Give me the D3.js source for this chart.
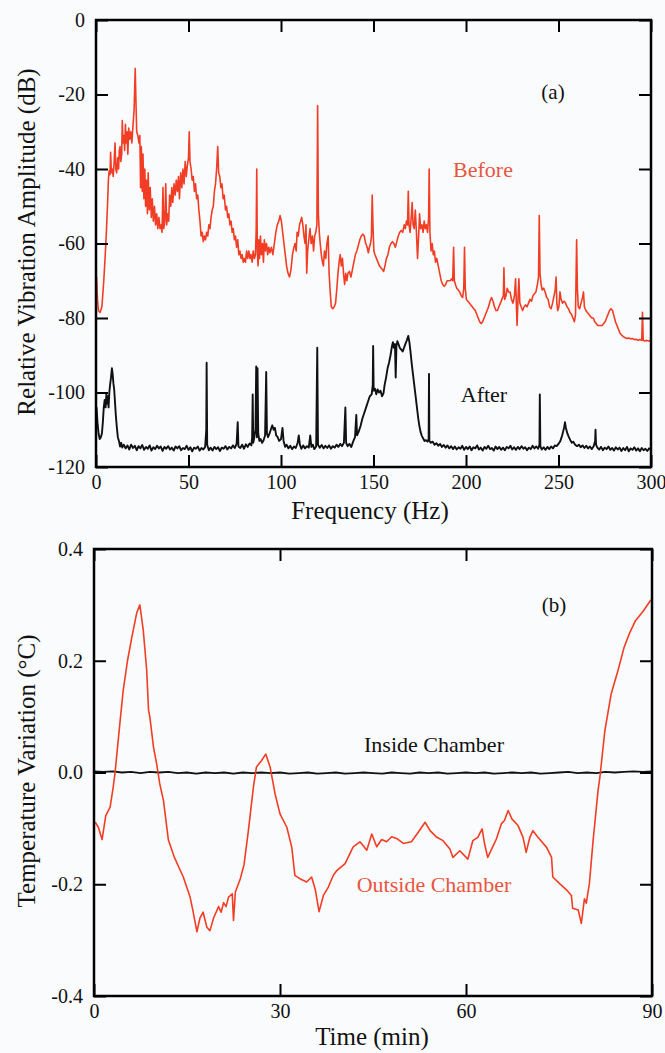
<!DOCTYPE html>
<html>
<head>
<meta charset="utf-8">
<script src="https://cdn.jsdelivr.net/npm/d3@7"></script>
<style>
  body { margin: 0; background: #fafbfd; }
  .frame { fill: none; stroke: #000; stroke-width: 2.5; }
  .axis path { display: none; }
  .axis line { stroke: #000; stroke-width: 2; }
  .axis text { font-size: 20px; fill: #111; }
</style>
</head>
<body>
<div id="container"></div>
<script>
/* DATA: panel (a) spectra, [frequency Hz, amplitude dB] */
const beforeData = [
  [0.3,-69],[0.8,-75],[1.3,-78],[2.2,-78.5],[3.2,-77],[4.2,-70],[5,-63],[5.6,-57],[6.2,-50],[6.7,-43],[7.1,-40.5],[7.6,-41.5],[7.9,-35.5],[8.3,-41],[8.8,-40],[9.3,-42],[9.7,-39],[10.3,-33],[10.7,-40],[11.2,-41],[11.7,-37],[12.2,-40],[12.6,-35],[13,-34],[13.4,-38],[13.9,-36],[14.2,-27],[14.6,-33],[15.1,-31],[15.5,-35],[15.9,-28],[16.3,-33],[16.8,-30],[17.2,-36],[17.7,-29],[18.2,-32],[18.8,-30],[19.4,-33],[19.9,-29],[20.6,-24],[21.2,-13],[21.6,-22],[22,-30],[22.6,-31],[23.2,-33],[23.7,-31],[24.1,-45],[24.5,-34],[25,-46],[25.4,-36],[25.9,-48],[26.4,-40],[26.8,-50],[27.3,-43],[27.8,-52],[28.2,-41],[28.8,-51],[29.3,-45],[29.9,-53],[30.4,-48],[31,-54],[31.6,-50],[32.2,-55],[32.8,-52],[33.4,-56],[34,-53],[34.6,-56],[35.2,-55],[35.7,-57],[36.2,-45],[36.6,-56],[37.2,-54],[37.7,-44],[38.2,-55],[38.8,-52],[39.3,-54],[39.8,-47],[40.4,-50],[41,-45],[41.5,-49],[42.2,-44],[42.8,-47],[43.4,-43],[44,-46],[44.6,-42],[45.1,-48],[45.8,-41],[46.4,-45],[47,-40],[47.6,-44],[48.2,-38],[48.8,-42],[49.4,-39],[50,-37],[50.4,-30],[50.8,-38],[51.4,-40],[52,-43],[52.6,-42],[53.2,-46],[53.8,-44],[54.4,-48],[55,-47],[55.6,-51],[56.2,-54],[56.8,-58],[57.4,-57],[58,-59.5],[58.6,-58],[59.2,-59],[59.8,-57],[60.4,-58],[61,-55],[61.6,-56],[62.2,-53],[62.8,-51],[63.4,-50],[64,-46],[64.6,-44],[65.2,-40],[65.8,-34],[66.3,-41],[66.9,-42],[67.5,-45],[68.1,-44],[68.7,-48],[69.3,-47],[70,-51],[70.6,-50],[71.2,-53],[71.8,-52],[72.4,-55],[73,-54],[73.6,-57],[74.2,-56],[74.8,-59],[75.4,-58],[76,-61],[76.6,-59],[77.2,-63],[77.8,-62],[78.4,-64],[79,-63],[79.6,-65],[80.2,-64],[80.8,-65],[81.4,-62],[82,-64],[82.6,-62],[83.2,-64],[83.8,-63],[84.4,-65],[85,-62],[85.6,-64],[86.2,-63],[86.6,-56],[86.9,-40],[87.2,-62],[87.6,-66],[88,-59],[88.4,-64],[88.9,-58],[89.4,-63],[90,-60],[90.5,-65],[91,-59],[91.6,-62],[92.2,-60],[92.8,-63],[93.4,-61],[94,-62.5],[94.8,-61],[95.6,-63],[96.4,-60],[97.2,-57],[98,-55],[98.8,-54],[99.5,-52.5],[100.2,-54],[100.9,-57],[101.6,-60],[102.3,-63],[103,-66],[103.8,-68],[104.6,-69],[105.4,-67],[106.2,-63],[107,-61],[107.6,-60],[108.2,-62],[108.7,-57],[109.3,-58],[110,-55],[110.6,-54],[111.2,-53],[111.8,-55],[112.4,-58],[113,-60],[113.5,-55],[113.9,-68],[114.4,-62],[115,-59],[115.7,-56],[116.3,-60],[117,-58],[117.6,-62],[118.2,-58],[118.8,-57],[119.4,-55],[119.8,-23],[120.2,-52],[120.7,-57],[121.2,-60],[121.8,-63],[122.4,-65],[122.9,-66],[123.5,-62],[124.2,-64],[124.8,-60],[125.5,-58],[126,-68],[126.6,-73],[127.2,-77],[128,-77.5],[128.8,-77],[129.5,-76],[130.2,-72],[130.8,-68],[131.4,-65],[132,-63],[132.6,-66],[133.2,-64],[133.8,-68],[134.4,-71],[135,-68],[135.6,-70],[136.2,-68],[137,-67.5],[137.8,-69],[138.6,-67],[139.4,-65],[140.2,-63],[141,-62],[141.8,-60.5],[142.6,-59],[143.4,-58],[144.2,-57.5],[145,-58],[145.8,-60],[146.6,-61],[147.2,-62.5],[147.8,-61],[148.4,-60],[148.9,-58],[149.3,-47],[149.7,-55],[150.2,-62],[150.8,-63],[151.6,-64],[152.4,-65],[153.2,-66],[154,-66.5],[154.8,-67],[155.5,-67.5],[156.2,-66],[157,-64],[157.8,-63],[158.6,-61],[159.4,-60],[160.2,-59.5],[161,-60],[161.8,-61],[162.6,-59.5],[163.4,-58],[164.2,-57],[165,-56.5],[165.8,-57],[166.6,-55],[167.2,-56],[167.8,-54],[168.4,-55],[168.8,-46],[169.2,-55],[169.8,-57],[170.4,-53],[170.9,-49],[171.4,-55],[172,-56],[172.6,-51],[173.2,-57],[173.8,-64],[174.4,-58],[174.9,-52],[175.5,-56],[176.2,-55],[176.8,-57],[177.4,-54],[178,-56],[178.6,-55],[179.2,-57],[179.8,-53],[180.1,-40],[180.5,-57],[181.1,-62],[181.7,-60],[182.3,-63],[182.9,-62],[183.5,-65],[184.2,-64],[185,-66],[185.8,-68],[186.6,-70],[187.4,-71],[188.2,-71.5],[189,-71],[189.8,-70],[190.6,-70],[191.4,-70],[192.2,-69.5],[192.8,-70],[193.3,-61],[193.7,-70],[194.3,-71],[195,-72],[195.8,-72.5],[196.6,-73],[197.4,-74],[198.2,-74.5],[198.8,-72],[199.2,-61],[199.6,-72],[200.2,-75],[201,-75.5],[201.8,-76],[202.6,-76.5],[203.4,-77],[204.2,-77.5],[205,-78],[205.8,-79],[206.6,-80],[207.4,-81],[208.2,-81.5],[209,-81],[209.8,-80],[210.6,-79],[211.4,-78],[212.2,-77],[213,-75.5],[213.8,-74.5],[214.6,-75.5],[215.4,-77],[216.2,-78],[217,-78],[217.8,-77],[218.6,-76],[219.4,-75],[220.2,-74],[220.5,-66.5],[220.9,-75],[221.6,-74],[222.3,-72],[223,-73],[223.8,-73],[224.6,-75],[225.4,-76],[226.2,-74],[226.8,-69.5],[227.2,-76],[227.6,-82],[228.1,-75],[228.6,-69.5],[229.1,-76],[229.8,-77],[230.6,-78],[231.4,-77],[232.2,-76.5],[233,-77],[233.8,-76],[234.6,-75],[235.4,-75.5],[236.2,-74],[237,-73.5],[237.8,-73],[238.6,-71],[239.2,-69],[239.6,-52.5],[240,-68],[240.6,-71],[241.2,-72.5],[242,-72],[242.8,-73],[243.6,-74.5],[244.4,-75],[245.2,-77],[246,-77.5],[246.8,-76],[247.6,-74],[248.2,-72.5],[248.7,-69],[249.1,-76],[249.6,-78],[250.2,-77],[250.8,-73],[251.4,-75],[252.2,-76],[253,-75.5],[253.8,-76],[254.6,-77],[255.4,-77.5],[256.2,-78.5],[257,-79],[257.8,-80],[258.6,-81],[259.2,-79],[259.8,-59],[260.2,-72],[260.7,-77],[261.4,-77.5],[262.2,-76],[263,-74.5],[263.5,-73],[264,-77],[264.8,-78],[265.6,-78.5],[266.4,-79],[267.2,-79.5],[268,-80],[268.8,-80],[269.6,-81],[270.4,-81.5],[271.2,-82],[272,-82],[272.8,-82],[273.6,-82],[274.4,-81.5],[275.2,-81],[276,-80],[276.8,-79],[277.6,-78],[278.4,-77.5],[279.2,-78],[280,-79.5],[280.8,-81],[281.6,-82],[282.4,-83],[283.2,-84],[284,-84.5],[285,-85],[286,-85.3],[287,-85.5],[288,-85.4],[289,-85.6],[290,-85.5],[291,-85.8],[292,-85.7],[293,-86],[294,-85.8],[295,-86],[295.4,-78.5],[295.8,-86],[296.6,-86.2],[297.4,-86],[298.2,-86.1],[299,-86.2],[300,-86]
];

const afterData = [
  [0.3,-104],[0.8,-108],[1.4,-111],[2,-112.5],[2.6,-112],[3.2,-111],[3.7,-108],[4.2,-104],[4.7,-102],[5.2,-104],[5.6,-100.5],[6,-103],[6.4,-101],[6.8,-104],[7.2,-100],[7.6,-98],[8.1,-96],[8.6,-93.5],[9,-95],[9.4,-97.5],[9.8,-99],[10.2,-102],[10.7,-106],[11.2,-109],[11.8,-112],[12.4,-113],[13,-114.5],[13.6,-113.5],[14.2,-114.8],[15,-114],[16,-115],[17,-114.2],[18,-115.3],[19,-114],[20,-114.9],[21,-114.3],[22,-115.5],[23,-114.4],[24,-115],[25,-114.1],[26,-115.4],[27,-114.6],[28,-115.1],[29,-114.2],[30,-115.6],[31,-114.7],[32,-115.2],[33,-114.3],[34,-115],[35,-114.5],[36,-115.7],[37,-114.6],[38,-115.1],[39,-114.4],[40,-115.3],[41,-114.8],[42,-115.6],[43,-114.5],[44,-115],[45,-114.4],[46,-115.5],[47,-114.9],[48,-115.2],[49,-114.3],[50,-115.4],[51,-114.7],[52,-115.8],[53,-114.8],[54,-115.1],[55,-114.5],[56,-115.6],[57,-114.9],[58,-115.3],[59,-114.6],[59.6,-110],[59.8,-92],[60.1,-114],[61,-115.5],[62,-114.8],[63,-115.6],[64,-114.6],[65,-115.2],[66,-114.7],[67,-115.7],[68,-114.8],[69,-115.1],[70,-114.4],[71,-115.3],[72,-114.6],[73,-115],[74,-114.2],[75,-114.9],[76,-113.8],[76.6,-108],[77,-114.5],[78,-114.9],[79,-114],[80,-115.1],[81,-113.9],[82,-114.6],[83,-113.7],[84,-114.2],[84.4,-112],[84.7,-100.5],[85,-113.5],[85.6,-112],[86.2,-110],[86.6,-93],[87,-112],[87.3,-93.5],[87.7,-111],[88.3,-113],[89,-112.5],[89.8,-113.5],[90.6,-112.8],[91.4,-111.5],[92,-94.5],[92.4,-111],[93,-112],[93.8,-111],[94.6,-109.8],[95.3,-108.8],[96,-110],[96.7,-109.5],[97.4,-111.5],[98.2,-112],[99,-113],[100,-112.5],[100.8,-109.5],[101.4,-113],[102.2,-114.6],[103,-114],[104,-115],[105,-114.3],[106,-115.2],[107,-114.5],[108,-114.9],[109,-113.5],[109.6,-111.5],[110.2,-114],[111,-115.1],[112,-114.2],[113,-115],[114,-114.4],[115,-114.8],[115.8,-111.5],[116.4,-114.6],[117.2,-114],[118,-115.2],[119,-114.5],[119.6,-88],[120,-114],[121,-114.8],[122,-114.1],[123,-115],[124,-114.3],[125,-114.9],[126,-114.2],[127,-115.1],[128,-114.4],[129,-114.8],[130,-114],[131,-114.6],[132,-113.8],[133,-114.4],[134,-113.5],[134.8,-104],[135.2,-113.5],[136,-114.4],[137,-113.8],[138,-114.6],[139,-113.2],[140,-112],[140.7,-106],[141.1,-111.5],[142,-110.5],[143,-109],[144,-107],[145,-105.5],[146,-104],[147,-102.5],[148,-101],[149,-100.5],[149.6,-98],[149.8,-87.5],[150.1,-99.5],[150.8,-99],[151.5,-100.5],[152.2,-99.2],[153,-100],[153.8,-99.5],[154.6,-101],[155.4,-100.2],[156,-98],[156.8,-96],[157.6,-93.5],[158.4,-92],[159.2,-90],[160,-87.5],[160.5,-86.5],[161,-88],[161.6,-87],[162,-96],[162.4,-87.5],[162.9,-86.2],[163.5,-87],[164.2,-88],[165,-88.5],[165.8,-89],[166.5,-88],[167.2,-87],[168,-86],[168.8,-84.8],[169.4,-86.5],[170,-89],[170.6,-92],[171.2,-94.5],[171.8,-97],[172.4,-99.5],[173,-102],[173.6,-104.5],[174.2,-107],[174.8,-109],[175.4,-110.5],[176,-111.5],[176.8,-112.3],[177.6,-113],[178.4,-112.8],[179.2,-113.2],[179.8,-112.5],[180,-95],[180.2,-113],[181,-113.5],[182,-113.2],[183,-114],[184,-113.6],[185,-114.3],[186,-113.8],[187,-114.6],[188,-114.1],[189,-114.8],[190,-114.2],[191,-115],[192,-114.4],[193,-115.2],[194,-114.5],[195,-115.3],[196,-114.7],[197,-115.1],[198,-114.3],[199,-115.4],[200,-114.6],[201,-115.2],[202,-114.5],[203,-115.5],[204,-114.7],[205,-115],[206,-114.2],[207,-115.3],[208,-114.8],[209,-115.6],[210,-114.6],[211,-115.1],[212,-114.3],[213,-115.2],[214,-114.9],[215,-115.6],[216,-114.5],[217,-115.2],[218,-114.6],[219,-115.4],[220,-114.8],[221,-115.5],[222,-114.6],[223,-115],[224,-114.3],[225,-115.3],[226,-114.7],[227,-115.4],[228,-114.6],[229,-115.2],[230,-114.4],[231,-115.1],[232,-114.7],[233,-115.5],[234,-114.8],[235,-115.2],[236,-114.3],[237,-115],[238,-114.5],[239,-115.1],[239.7,-114],[239.9,-100.5],[240.2,-114.5],[241,-115.3],[242,-114.7],[243,-115.4],[244,-114.6],[245,-115.2],[246,-114.5],[247,-115],[248,-114.2],[249,-114.4],[250,-113.8],[251,-113],[252,-111.5],[253,-109.5],[253.5,-108],[254,-109.5],[254.8,-111],[255.6,-112],[256.4,-112.8],[257.2,-113.5],[258,-113.2],[259,-114],[260,-114.4],[261,-114],[262,-114.7],[263,-114.2],[264,-114.9],[265,-114.3],[266,-115],[267,-114.5],[268,-115.2],[269,-114.4],[269.8,-113],[270,-110],[270.3,-114],[271,-114.8],[272,-115.3],[273,-114.6],[274,-115.5],[275,-114.8],[276,-115.2],[277,-114.5],[278,-115.4],[279,-114.9],[280,-115.6],[281,-114.7],[282,-115.3],[283,-114.8],[284,-115.7],[285,-114.9],[286,-115.5],[287,-114.6],[288,-115.8],[289,-115],[290,-115.4],[291,-114.7],[292,-115.6],[293,-115],[294,-115.8],[295,-114.9],[296,-115.5],[297,-115.1],[298,-115.7],[299,-115],[300,-115.4]
];

/* DATA: panel (b) temperature, [time min, variation °C] */
const outsideData = [
  [0.2,-0.089],[0.7,-0.098],[1.3,-0.12],[1.9,-0.077],[2.6,-0.062],[3.1,-0.026],[3.4,0],[4.1,0.08],[4.7,0.146],[5.4,0.2],[6.1,0.242],[6.9,0.286],[7.4,0.30],[7.95,0.254],[8.5,0.183],[8.8,0.111],[9.0,0.10],[9.6,0.045],[10.1,0.016],[10.6,-0.02],[11.2,-0.05],[12.0,-0.121],[12.9,-0.15],[13.7,-0.17],[14.4,-0.187],[15.5,-0.223],[16.0,-0.25],[16.6,-0.285],[17.1,-0.26],[17.6,-0.25],[18.2,-0.277],[18.7,-0.283],[19.3,-0.26],[20.1,-0.24],[20.5,-0.25],[20.9,-0.233],[21.3,-0.24],[21.7,-0.223],[22.3,-0.217],[22.5,-0.265],[22.8,-0.214],[23.6,-0.19],[24.2,-0.165],[24.9,-0.104],[25.7,-0.027],[26.2,0.01],[27.0,0.021],[27.7,0.033],[28.4,0.01],[28.9,-0.02],[29.2,-0.038],[30.0,-0.074],[31.1,-0.098],[31.9,-0.134],[32.4,-0.184],[33.2,-0.19],[34.3,-0.196],[35.1,-0.187],[35.7,-0.21],[36.3,-0.249],[37.0,-0.22],[37.8,-0.205],[38.6,-0.184],[39.2,-0.175],[40.5,-0.163],[41.8,-0.133],[42.9,-0.124],[44.0,-0.139],[44.8,-0.11],[45.6,-0.133],[46.4,-0.12],[47.2,-0.124],[48.0,-0.115],[48.8,-0.118],[49.9,-0.127],[51.2,-0.124],[52.3,-0.107],[53.4,-0.089],[54.2,-0.104],[55.3,-0.116],[56.3,-0.122],[57.4,-0.137],[57.9,-0.152],[59.0,-0.14],[60.3,-0.155],[61.1,-0.122],[61.9,-0.116],[62.6,-0.101],[63.0,-0.128],[63.5,-0.152],[64.4,-0.131],[64.9,-0.119],[65.7,-0.092],[66.2,-0.086],[66.8,-0.068],[67.4,-0.083],[68.4,-0.095],[69.2,-0.116],[69.7,-0.143],[70.3,-0.116],[70.8,-0.104],[71.6,-0.116],[73.0,-0.134],[73.8,-0.152],[74.0,-0.187],[75.1,-0.199],[76.2,-0.21],[77.0,-0.22],[77.2,-0.243],[78.1,-0.246],[78.6,-0.27],[79.1,-0.226],[79.4,-0.234],[79.9,-0.199],[80.5,-0.122],[81.3,-0.032],[81.6,-0.008],[82.4,0.075],[83.4,0.14],[84.5,0.182],[85.5,0.224],[86.4,0.25],[87.3,0.271],[88.6,0.289],[89.7,0.307],[90,0.31]
];

const insideData = [
  [0,0.002],[1.5,0.001],[3,0.002],[4.5,0.000],[6,0.001],[7.5,-0.001],[9,0.001],[10.5,0.000],[12,0.001],[13.5,-0.001],[15,0.000],[16.5,-0.002],[18,0.000],[19.5,-0.001],[21,0.000],[22.5,-0.002],[24,0.000],[25.5,-0.001],[27,0.000],[28.5,-0.001],[30,0.000],[31.5,-0.002],[33,-0.001],[34.5,0.000],[36,-0.002],[37.5,-0.001],[39,0.000],[40.5,-0.002],[42,-0.001],[43.5,0.000],[45,-0.001],[46.5,-0.002],[48,0.000],[49.5,-0.001],[51,-0.002],[52.5,0.000],[54,-0.001],[55.5,0.000],[57,-0.002],[58.5,-0.001],[60,0.000],[61.5,-0.001],[63,0.000],[64.5,-0.002],[66,-0.001],[67.5,0.000],[69,-0.001],[70.5,0.000],[72,-0.002],[73.5,-0.001],[75,0.000],[76.5,0.001],[78,-0.001],[79.5,0.000],[81,-0.001],[82.5,0.001],[84,0.000],[85.5,0.001],[87,0.002],[88.5,0.001],[90,0.002]
];

/* TICKS */
const freqTicks = [0, 50, 100, 150, 200, 250, 300];
const dbTicks = [-120, -100, -80, -60, -40, -20, 0];
const timeTicks = [0, 30, 60, 90];
const tempTicks = [-0.4, -0.2, 0.0, 0.2, 0.4];

const RED = "#f23d25";
const RED_TEXT = "#e8553f";
const SERIF = "'Liberation Serif', 'DejaVu Serif', 'Times New Roman', Times, serif";

const svg = d3.select("#container").append("svg")
    .attr("width", 665)
    .attr("height", 1053);

/* draws frame + inward ticks for one panel */
function drawPanel(x, y, xTicks, yTicks, yFmt) {
  const [x0, x1] = x.range();
  const [y0, y1] = y.range();
  const tick = 12;

  const bottom = svg.append("g").attr("class", "axis")
      .attr("transform", "translate(0," + y0 + ")")
      .call(d3.axisBottom(x).tickValues(xTicks).tickSize(-tick).tickPadding(8).tickFormat(d => d));
  bottom.attr("font-family", SERIF).attr("font-size", 20);

  svg.append("g").attr("class", "axis")
      .attr("transform", "translate(0," + y1 + ")")
      .call(d3.axisTop(x).tickValues(xTicks).tickSize(-tick).tickFormat(""));

  const left = svg.append("g").attr("class", "axis")
      .attr("transform", "translate(" + x0 + ",0)")
      .call(d3.axisLeft(y).tickValues(yTicks).tickSize(-tick).tickPadding(11).tickFormat(yFmt));
  left.attr("font-family", SERIF).attr("font-size", 20);

  svg.append("g").attr("class", "axis")
      .attr("transform", "translate(" + x1 + ",0)")
      .call(d3.axisRight(y).tickValues(yTicks).tickSize(-tick).tickFormat(""));

  svg.append("rect").attr("class", "frame")
      .attr("x", x0).attr("y", y1)
      .attr("width", x1 - x0).attr("height", y0 - y1);
}

function addLine(data, x, y, color, w) {
  svg.append("path")
      .datum(data)
      .attr("fill", "none")
      .attr("stroke", color)
      .attr("stroke-width", w)
      .attr("stroke-linejoin", "round")
      .attr("d", d3.line().x(d => x(d[0])).y(d => y(d[1])));
}

function label(txt, x, y, color, size) {
  svg.append("text")
      .attr("x", x).attr("y", y)
      .attr("text-anchor", "middle")
      .attr("font-family", SERIF)
      .attr("font-size", size)
      .attr("fill", color)
      .text(txt);
}

function vLabel(txt, x, yc) {
  svg.append("text")
      .attr("transform", "translate(" + x + "," + yc + ") rotate(-90)")
      .attr("text-anchor", "middle")
      .attr("font-family", SERIF)
      .attr("font-size", 25)
      .attr("fill", "#111")
      .text(txt);
}

/* PANEL (a) */
const xA = d3.scaleLinear().domain([0, 300]).range([96, 651]);
const yA = d3.scaleLinear().domain([-120, 0]).range([467, 20]);

addLine(beforeData, xA, yA, RED, 1.6);
addLine(afterData, xA, yA, "#111", 1.9);
drawPanel(xA, yA, freqTicks, dbTicks, d => String(d));

label("(a)", 553, 99, "#111", 21);
label("Before", 483, 177, RED_TEXT, 22);
label("After", 484, 402, "#111", 22);
label("Frequency (Hz)", 370, 519, "#111", 25);
vLabel("Relative Vibration Amplitude (dB)", 35, 242);

/* PANEL (b) */
const xB = d3.scaleLinear().domain([0, 90]).range([94, 652]);
const yB = d3.scaleLinear().domain([-0.4, 0.4]).range([996, 549]);

addLine(insideData, xB, yB, "#111", 1.8);
addLine(outsideData, xB, yB, RED, 1.6);
drawPanel(xB, yB, timeTicks, tempTicks, d => d.toFixed(1));

label("(b)", 554, 612, "#111", 21);
label("Inside Chamber", 434, 752, "#111", 22);
label("Outside Chamber", 434, 892, RED_TEXT, 22);
label("Time (min)", 372, 1045, "#111", 25);
vLabel("Temperature Variation (\u00B0C)", 35, 771);
</script>
</body>
</html>
